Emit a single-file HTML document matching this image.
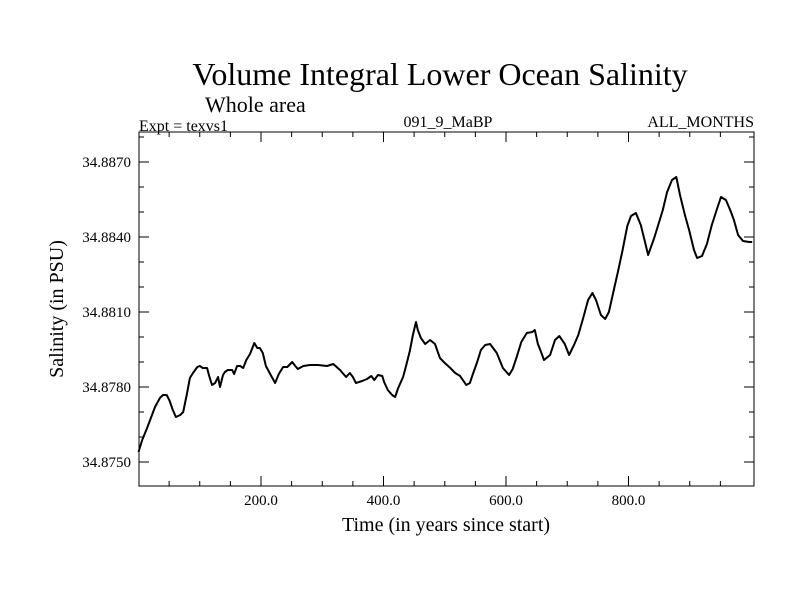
<!DOCTYPE html>
<html><head><meta charset="utf-8"><style>
html,body{margin:0;padding:0;background:#fff;}
svg{display:block;font-family:"Liberation Serif",serif;}
</style></head><body>
<svg id="chart" width="800" height="600">
<text x="440" y="85" font-size="32" text-anchor="middle">Volume Integral Lower Ocean Salinity</text>
<text x="205" y="112" font-size="22">Whole area</text>
<text x="139" y="131" font-size="16">Expt = texvs1</text>
<text x="448" y="127" font-size="16" text-anchor="middle">091_9_MaBP</text>
<text x="754" y="127" font-size="16" text-anchor="end">ALL_MONTHS</text>
<text x="446" y="531" font-size="20" text-anchor="middle">Time (in years since start)</text>
<text transform="translate(63,309) rotate(-90)" font-size="20" text-anchor="middle">Salinity (in PSU)</text>
<rect x="139" y="132" width="615" height="354" fill="none" stroke="#000" stroke-width="1"/>
<g id="ticks"></g>
<g id="labels"></g>
<path id="line" fill="none" stroke="#000" stroke-width="2" stroke-linejoin="round"/>
</svg>
<script>
const years=[0,6,14,22,27,35,40,46,51,56,61,68,73,79,84,89,96,100,105,112,115,120,125,130,133,138,141,146,153,156,161,166,171,176,182,189,194,198,203,208,215,223,229,236,243,251,256,260,269,280,293,308,318,329,339,345,350,355,365,373,380,385,391,398,401,407,414,419,424,432,438,443,448,453,456,461,468,476,484,492,500,509,517,525,535,541,546,553,559,566,574,580,585,595,605,611,618,625,634,643,647,652,656,662,672,680,687,696,703,711,718,726,734,741,747,755,762,768,776,783,790,798,804,812,820,827,832,842,848,856,863,871,878,884,892,899,907,912,920,928,936,945,951,959,966,972,979,987,997,1002];
const salinity=[34.8754,34.87588,34.87636,34.87688,34.8772,34.87756,34.87768,34.87768,34.87744,34.87708,34.8768,34.87688,34.877,34.87772,34.87836,34.87856,34.8788,34.87884,34.87876,34.87876,34.87848,34.87808,34.87816,34.8784,34.878,34.87848,34.8786,34.87868,34.87868,34.87852,34.87884,34.87884,34.87876,34.87908,34.87932,34.87976,34.87956,34.87956,34.87936,34.87884,34.87852,34.87816,34.87852,34.8788,34.8788,34.879,34.87884,34.87872,34.87884,34.87888,34.87888,34.87884,34.87892,34.87868,34.8784,34.87856,34.8784,34.87816,34.87824,34.87832,34.87844,34.87828,34.87848,34.87844,34.8782,34.87788,34.87768,34.8776,34.87796,34.8784,34.87896,34.87944,34.88008,34.8806,34.88028,34.87996,34.87972,34.87988,34.87972,34.87916,34.87896,34.87876,34.87856,34.87844,34.87808,34.87816,34.87852,34.879,34.87948,34.87968,34.87972,34.87952,34.87936,34.87876,34.87848,34.87872,34.87924,34.8798,34.88016,34.8802,34.88028,34.87972,34.87948,34.87908,34.87928,34.87988,34.88004,34.87972,34.87928,34.87968,34.88008,34.88076,34.88148,34.88176,34.88148,34.88088,34.88072,34.881,34.88188,34.88264,34.88344,34.88444,34.88484,34.88496,34.88448,34.8838,34.88328,34.88396,34.88444,34.88508,34.8858,34.88628,34.8864,34.88568,34.88488,34.88428,34.88348,34.88316,34.88324,34.88372,34.88448,34.88516,34.8856,34.88548,34.88508,34.88468,34.88408,34.88384,34.8838,34.8838];
const xTickValues=[200,400,600,800];
const xTickLabels=["200.0","400.0","600.0","800.0"];
const yTickValues=[34.875,34.878,34.881,34.884,34.887];
const yTickLabels=["34.8750","34.8780","34.8810","34.8840","34.8870"];
const NS="http://www.w3.org/2000/svg";
const L=139,R=754,T=132,B=486;
function sx(v){return 138.5+v*0.6125;}
function sy(v){return 462-(v-34.875)/0.003*75;}
const tg=document.getElementById('ticks'),lg=document.getElementById('labels');
function ln(x1,y1,x2,y2){const l=document.createElementNS(NS,'line');l.setAttribute('x1',x1);l.setAttribute('y1',y1);l.setAttribute('x2',x2);l.setAttribute('y2',y2);l.setAttribute('stroke','#000');


tg.appendChild(l);}
for(let v=50;v<1000;v+=50){const x=sx(v);const len=(v%200===0)?10:5;ln(x,B,x,B-len);ln(x,T,x,T+len);}
for(let v=34.874;v<=34.8885;v+=0.001){const y=sy(v);if(y<T||y>B)continue;const major=Math.abs(((v-34.875)/0.003)-Math.round((v-34.875)/0.003))<0.01;const len=major?10:5;ln(L,y,L+len,y);ln(R,y,R-len,y);}
xTickValues.forEach((v,i)=>{const t=document.createElementNS(NS,'text');t.setAttribute('x',sx(v));t.setAttribute('y',505);t.setAttribute('font-size','15');t.setAttribute('text-anchor','middle');t.textContent=xTickLabels[i];


lg.appendChild(t);});
yTickValues.forEach((v,i)=>{const t=document.createElementNS(NS,'text');t.setAttribute('x',131);t.setAttribute('y',sy(v)+5);t.setAttribute('font-size','15');t.setAttribute('text-anchor','end');t.textContent=yTickLabels[i];


lg.appendChild(t);});
document.getElementById('line').setAttribute('d',years.map((y,i)=>(i?'L':'M')+sx(y).toFixed(1)+','+sy(salinity[i]).toFixed(1)).join(''));
</script>
</body></html>
